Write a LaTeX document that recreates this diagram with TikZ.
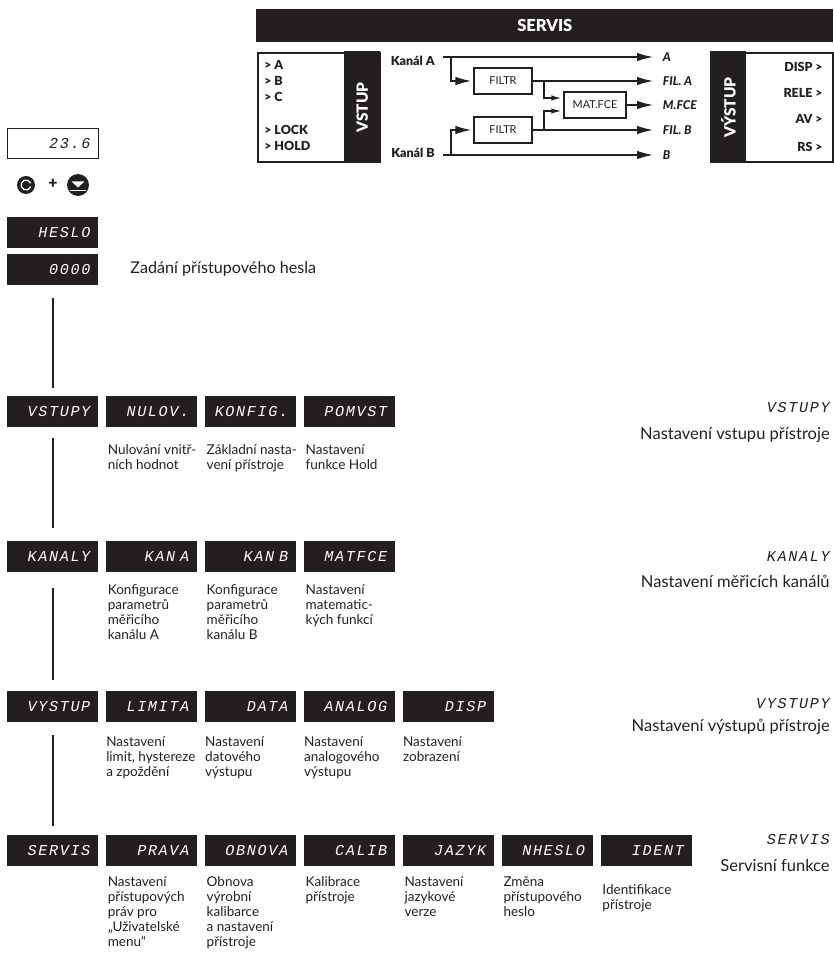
\documentclass[tikz,border=0pt]{standalone}
\usepackage{fontspec}
\usepackage{xcolor}
\usetikzlibrary{arrows.meta,positioning}
\setmainfont{Lato}[BoldFont={Lato Black}]
\newfontfamily\segfont[LetterSpace=11.0]{Liberation Mono}
\definecolor{panelblack}{RGB}{35,31,32}
\begin{document}
\begin{tikzpicture}[x=0.02cm,y=-0.02cm,
        display/.style={rectangle,fill=panelblack,text=white,minimum width=1.82cm,minimum height=0.61cm,
          inner xsep=0.16cm,inner ysep=0pt,text width=1.5cm,align=right,font=\segfont\itshape\fontsize{8.6pt}{8.6pt}\selectfont},
        shown/.style={display,fill=white,draw=panelblack,text=panelblack,thin},
        note/.style={inner sep=0pt,align=left,text=panelblack,font=\fontsize{7.7pt}{8.5pt}\selectfont},
        side/.style={inner sep=0pt,align=right,anchor=east,text=panelblack,font=\fontsize{9.4pt}{10pt}\selectfont},
        sideseg/.style={side,font=\segfont\itshape\fontsize{8.6pt}{8.6pt}\selectfont},
        link/.style={thick,panelblack},
        block/.style={rectangle,draw=panelblack,line width=0.8pt,fill=white,inner sep=0pt,font=\fontsize{6.2pt}{7pt}\selectfont,text=panelblack},
        arrow/.style={-{Latex[length=3.2mm,width=1.7mm]},line width=0.8pt,panelblack},
        minor/.style={-{Latex[length=2mm,width=1.1mm]},line width=0.8pt,panelblack,shorten >=0.04cm},
        tag/.style={inner sep=0pt,text=panelblack,font=\bfseries\fontsize{7.1pt}{8pt}\selectfont},
        channel/.style={tag,anchor=east,inner xsep=0.16cm},
        signal/.style={tag,anchor=west,inner xsep=0.19cm,font=\bfseries\itshape\fontsize{6.9pt}{8pt}\selectfont},
        panel/.style={rectangle,draw=panelblack,line width=1.2pt,fill=white,minimum height=2.18cm,anchor=north west},
        panelbar/.style={rectangle,fill=panelblack,minimum width=0.72cm,minimum height=2.24cm,anchor=north west,inner sep=0pt},
        panelname/.style={rotate=90,text=white,font=\bfseries\fontsize{8.8pt}{10pt}\selectfont},
        gap/.style={right=0.145cm of #1}]
        \useasboundingbox (0,0) rectangle (833,962);
        \node[rectangle,fill=panelblack,text=white,minimum width=11.54cm,minimum height=0.66cm,anchor=north west,inner sep=0pt,font=\bfseries\fontsize{9.4pt}{10pt}\selectfont] (servis) at (256,9) {SERVIS};
        \node[panel,minimum width=2.44cm] (inbox) at (257,52) {};
        \node[panelbar] (inbar) at (344,51) {};
        \node[panelname] (inlabel) at (inbar) {VSTUP};
        \node[panel,minimum width=2.44cm] (outbox) at (710,52) {};
        \node[panelbar] (outbar) at (710,51) {};
        \node[panelname] (outlabel) at (outbar) {VÝSTUP};
        \node[tag,anchor=west] (inA) at (264,65) {> A};
        \node[tag,anchor=west] (inB) at (264,81) {> B};
        \node[tag,anchor=west] (inC) at (264,97) {> C};
        \node[tag,anchor=west] (inLock) at (264,130) {> LOCK};
        \node[tag,anchor=west] (inHold) at (264,146) {> HOLD};
        \node[tag,anchor=east] (outDisp) at (823,67) {DISP >};
        \node[tag,anchor=east] (outRele) at (823,93) {RELE >};
        \node[tag,anchor=east] (outAv) at (823,119) {AV >};
        \node[tag,anchor=east] (outRs) at (823,147) {RS >};
        \node[channel] (chanA) at (443,61) {Kanál A};
        \node[channel] (chanB) at (443,153) {Kanál B};
        \node[block,minimum width=1.16cm,minimum height=0.52cm] (filtrA) at (503,81) {FILTR};
        \node[block,minimum width=1.16cm,minimum height=0.52cm] (filtrB) at (503,130) {FILTR};
        \node[block,minimum width=1.24cm,minimum height=0.52cm] (matfce) at (595,105) {MAT.FCE};
        \node[signal] (outA) at (653,57) {A};
        \node[signal] (outFilA) at (653,81) {FIL. A};
        \node[signal] (outFce) at (653,105) {M.FCE};
        \node[signal] (outFilB) at (653,130) {FIL. B};
        \node[signal] (outBB) at (653,155) {B};
        \draw[arrow] (chanA.east |- outA.west) -- (outA.west);
        \draw[arrow] (chanB.east |- outBB.west) -- (outBB.west);
        \draw[arrow] (filtrA) -- (outFilA.west);
        \draw[arrow] (filtrB) -- (outFilB.west);
        \draw[arrow] (matfce) -- (outFce.west);
        \coordinate (forkA) at (451,57);
        \coordinate (forkB) at (451,155);
        \coordinate (forkC) at (544,81);
        \coordinate (forkD) at (544,130);
        \draw[arrow,shorten >=0.04cm] (forkA) |- (filtrA);
        \draw[arrow,shorten >=0.04cm] (forkB) |- (filtrB);
        \draw[minor] (forkC) |- ([yshift=0.14cm]matfce.west);
        \draw[minor] (forkD) |- ([yshift=-0.12cm]matfce.west);
        \node[shown,anchor=north west] (value) at (7,128) {23.6};
        \node[circle,fill=panelblack,minimum size=0.36cm,inner sep=0pt] (btnC) at (26,185) {};
        \node[font=\bfseries\fontsize{9pt}{10pt}\selectfont,text=panelblack,inner sep=0pt] (plus) at (53,184) {+};
        \node[circle,fill=panelblack,minimum size=0.44cm,inner sep=0pt] (btnDown) at (78,185) {};
        \draw[white,line width=0.7pt] (btnC) ++(20:0.1cm) arc (20:340:0.1cm);
        \fill[white] ([xshift=-0.13cm,yshift=0.07cm]btnDown.center) -- ([xshift=0.13cm,yshift=0.07cm]btnDown.center) -- ([yshift=-0.05cm]btnDown.center) -- cycle;
        \draw[white,line width=0.5pt] ([xshift=-0.17cm,yshift=-0.1cm]btnDown.center) -- ([xshift=0.17cm,yshift=-0.1cm]btnDown.center);
        \node[display,anchor=north west] (heslo) at (7,217) {HESLO};
        \node[display,anchor=north west] (kod) at (7,254) {0000};
        \node[inner sep=0pt,anchor=west,text=panelblack,font=\fontsize{9.2pt}{10pt}\selectfont] (kodnote) at (130,269) {Zadání přístupového hesla};
        \node[display,anchor=north west] (vstupy) at (7,396) {VSTUPY};
        \node[display,gap=vstupy] (nulov) {NULOV.};
        \node[display,gap=nulov] (konfig) {KONFIG.};
        \node[display,gap=konfig] (pomvst) {POMVST};
        \node[note,below right=0.34cm and 0.03cm of nulov.south west] (nulovnote) {Nulování vnitř-\\ních hodnot};
        \node[note,below right=0.34cm and 0.03cm of konfig.south west] (konfignote) {Základní nasta-\\vení přístroje};
        \node[note,below right=0.34cm and 0.03cm of pomvst.south west] (pomvstnote) {Nastavení\\funkce Hold};
        \node[display,anchor=north west] (kanaly) at (7,541) {KANALY};
        \node[display,gap=kanaly] (kana) {KAN A};
        \node[display,gap=kana] (kanb) {KAN B};
        \node[display,gap=kanb] (matice) {MATFCE};
        \node[note,below right=0.24cm and 0.03cm of kana.south west] (kananote) {Konfigurace\\parametrů\\měřicího\\kanálu A};
        \node[note,below right=0.24cm and 0.03cm of kanb.south west] (kanbnote) {Konfigurace\\parametrů\\měřicího\\kanálu B};
        \node[note,below right=0.24cm and 0.03cm of matice.south west] (maticenote) {Nastavení\\matematic-\\kých funkcí};
        \node[display,anchor=north west] (vystup) at (7,691) {VYSTUP};
        \node[display,gap=vystup] (limita) {LIMITA};
        \node[display,gap=limita] (data) {DATA};
        \node[display,gap=data] (analog) {ANALOG};
        \node[display,gap=analog] (disp) {DISP};
        \node[note,below right=0.28cm and 0cm of limita.south west] (limitanote) {Nastavení\\limit, hystereze\\a zpoždění};
        \node[note,below right=0.28cm and 0cm of data.south west] (datanote) {Nastavení\\datového\\výstupu};
        \node[note,below right=0.28cm and 0cm of analog.south west] (analognote) {Nastavení\\analogového\\výstupu};
        \node[note,below right=0.28cm and 0cm of disp.south west] (dispnote) {Nastavení\\zobrazení};
        \node[display,anchor=north west] (serv) at (7,835) {SERVIS};
        \node[display,gap=serv] (prava) {PRAVA};
        \node[display,gap=prava] (obnova) {OBNOVA};
        \node[display,gap=obnova] (calib) {CALIB};
        \node[display,gap=calib] (jazyk) {JAZYK};
        \node[display,gap=jazyk] (nheslo) {NHESLO};
        \node[display,gap=nheslo] (ident) {IDENT};
        \node[note,below right=0.2cm and 0.03cm of prava.south west] (pravanote) {Nastavení\\přístupových\\práv pro\\„Uživatelské\\menu“};
        \node[note,below right=0.2cm and 0.03cm of obnova.south west] (obnovanote) {Obnova\\výrobní\\kalibarce\\a nastavení\\přístroje};
        \node[note,below right=0.2cm and 0.03cm of calib.south west] (calibnote) {Kalibrace\\přístroje};
        \node[note,below right=0.2cm and 0.03cm of jazyk.south west] (jazyknote) {Nastavení\\jazykové\\verze};
        \node[note,below right=0.2cm and 0.03cm of nheslo.south west] (nheslonote) {Změna\\přístupového\\heslo};
        \node[note,below right=0.36cm and 0.03cm of ident.south west] (identnote) {Identifikace\\přístroje};
        \node[sideseg] (sideA) at (830,408) {VSTUPY};
        \node[side] (sideAnote) at (830,435) {Nastavení vstupu přístroje};
        \node[sideseg] (sideB) at (830,557) {KANALY};
        \node[side] (sideBnote) at (830,581) {Nastavení měřicích kanálů};
        \node[sideseg] (sideC) at (830,704) {VYSTUPY};
        \node[side] (sideCnote) at (830,727) {Nastavení výstupů přístroje};
        \node[sideseg] (sideD) at (830,840) {SERVIS};
        \node[side] (sideDnote) at (830,865) {Servisní funkce};
        \coordinate (startA) at (53,298);
        \coordinate (endA) at (53,388);
        \coordinate (startB) at (53,438);
        \coordinate (endB) at (53,528);
        \coordinate (startC) at (53,588);
        \coordinate (endC) at (53,680);
        \coordinate (startD) at (53,735);
        \coordinate (endD) at (53,826);
        \draw[link] (startA) -- (endA);
        \draw[link] (startB) -- (endB);
        \draw[link] (startC) -- (endC);
        \draw[link] (startD) -- (endD);
      \end{tikzpicture}
\end{document}
